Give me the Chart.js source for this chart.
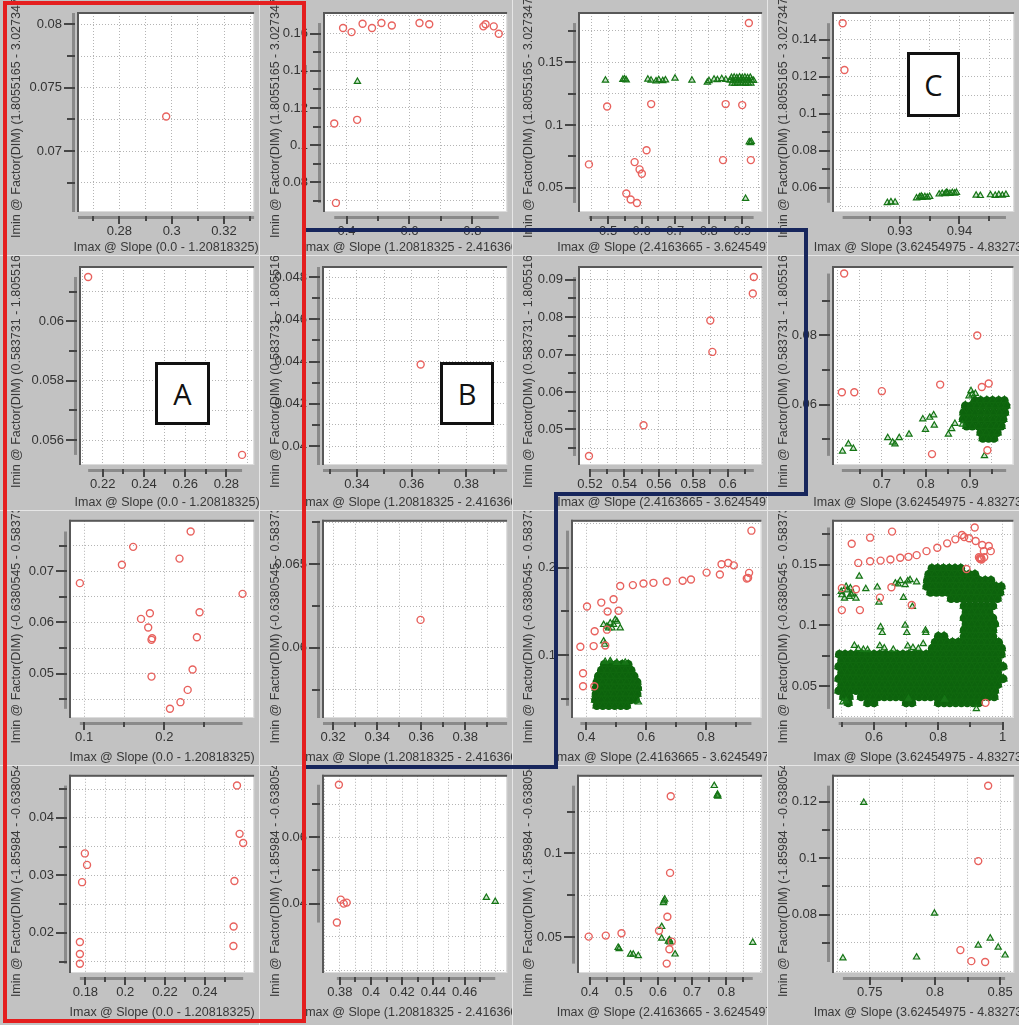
<!DOCTYPE html>
<html><head><meta charset="utf-8">
<script src="https://cdn.jsdelivr.net/npm/chart.js@4.4.0/dist/chart.umd.min.js"></script>
<style>
html,body{margin:0;padding:0;background:#c2c2c2;width:1019px;height:1025px;overflow:hidden;}
#wrap{position:relative;width:1019px;height:1025px;}
.cell{position:absolute;background:#c2c2c2;}
.cell canvas{position:absolute;left:0;top:0;}
.box{position:absolute;box-sizing:border-box;border:3px solid #111;background:#fff;font-family:"Open Sans",sans-serif;font-size:29px;color:#111;display:flex;align-items:center;justify-content:center;line-height:1;}
#overlay{position:absolute;left:0;top:0;pointer-events:none;}
</style></head><body><div id="wrap"></div>
<script>
// ---------- titles ----------
const xTitles = ["Imax @ Slope (0.0 - 1.20818325)","Imax @ Slope (1.20818325 - 2.4163665)","Imax @ Slope (2.4163665 - 3.62454975)","Imax @ Slope (3.62454975 - 4.832733)"];
const yTitles = ["Imin @ Factor(DIM) (1.8055165 - 3.0273475)","Imin @ Factor(DIM) (0.583731 - 1.8055165)","Imin @ Factor(DIM) (-0.6380545 - 0.583731)","Imin @ Factor(DIM) (-1.85984 - -0.6380545)"];

// ---------- axes: [min, max, minorStep, majorStep] ----------
const x11=[0.2642,0.3315,0.01,0.02],   y11=[0.0652,0.0809,0.0025,0.005];
const x12=[0.3284,0.9105,0.1,0.2],     y12=[0.0639,0.1712,0.01,0.02];
const x13=[0.4131,0.9593,0.05,0.1],    y13=[0.0308,0.1892,0.025,0.05];
const x14=[0.91878,0.94917,0.005,0.01],y14=[0.047,0.1543,0.01,0.02];
const x21=[0.20895,0.29342,0.01,0.02], y21=[0.05516,0.061826,0.001,0.002];
const x22=[0.3276,0.3949,0.01,0.02],   y22=[0.0391,0.04848,0.001,0.002];
const x23=[0.5136,0.62,0.01,0.02],     y23=[0.04049,0.09338,0.005,0.01];
const x24=[0.5888,0.9995,0.05,0.1],    y24=[0.04255,0.0998,0.01,0.02];
const x31=[0.0824,0.3119,0.05,0.1],    y31=[0.0413,0.0799,0.005,0.01];
const x32=[0.3154,0.399,0.01,0.02],    y32=[0.0558,0.0676,0.0025,0.005];
const x33=[0.352,0.9856,0.1,0.2],      y33=[0.0279,0.2536,0.05,0.1];
const x34=[0.4724,1.0337,0.1,0.2],     y34=[0.0236,0.1861,0.025,0.05];
const x41=[0.17223,0.2648,0.01,0.02],  y41=[0.013,0.0473,0.005,0.01];
const x42=[0.3692,0.4873,0.01,0.02],   y42=[0.0191,0.0785,0.01,0.02];
const x43=[0.3657,0.9049,0.05,0.1],    y43=[0.0287,0.1463,0.025,0.05];
const x44=[0.7218,0.8607,0.025,0.05],  y44=[0.0593,0.1291,0.01,0.02];

// ---------- data: [x, y] ----------
const red11=[[0.2979,0.07274]];
const green11=[];
const red12=[[0.361,0.1116],[0.389,0.1631],[0.416,0.1609],[0.451,0.1654],[0.481,0.1631],[0.511,0.1658],[0.544,0.1645],[0.632,0.1658],[0.663,0.1651],[0.835,0.1640],[0.842,0.1651],[0.868,0.1640],[0.884,0.1600],[0.4337,0.1136],[0.3663,0.0688]];
const green12=[[0.4347,0.1342]];
const red13=[[0.9198,0.1812],[0.497,0.1148],[0.6284,0.1167],[0.8506,0.1167],[0.900,0.1159],[0.4427,0.0687],[0.6146,0.0799],[0.579,0.0705],[0.5938,0.0647],[0.6007,0.0612],[0.8427,0.0721],[0.9257,0.0721],[0.5543,0.0455],[0.5672,0.0407],[0.5859,0.0380]];
const green13=[[0.492,0.1356],[0.544,0.1362],[0.549,0.1366],[0.554,0.1358],[0.6185,0.1364],[0.628,0.1356],[0.643,0.1350],[0.651,0.1360],[0.663,0.1352],[0.671,0.1358],[0.6995,0.1372],[0.750,0.1356],[0.796,0.1340],[0.801,0.1352],[0.816,0.1364],[0.826,0.1360],[0.839,0.1368],[0.851,0.1362],[0.921,0.0865],[0.925,0.0858],[0.927,0.0868],[0.910,0.0415],
 [0.868,0.1378],[0.876,0.1380],[0.884,0.1376],[0.892,0.1381],[0.900,0.1377],[0.908,0.1380],[0.916,0.1376],[0.924,0.1379],[0.864,0.1355],[0.872,0.1352],[0.880,0.1356],[0.888,0.1353],[0.896,0.1357],[0.904,0.1354],[0.912,0.1356],[0.920,0.1353],[0.928,0.1357],[0.934,0.1354],[0.870,0.1333],[0.878,0.1331],[0.886,0.1335],[0.894,0.1332],[0.902,0.1334],[0.910,0.1331],[0.918,0.1335],[0.926,0.1332]];
const red14=[[0.9204,0.1488],[0.9207,0.1236]];
const green14=[[0.9279,0.0520],[0.9285,0.0524],[0.9292,0.0522],[0.9328,0.0545],[0.9333,0.0550],[0.9338,0.0548],[0.9342,0.0552],[0.9346,0.0549],[0.9350,0.0553],[0.9336,0.0554],[0.9366,0.0566],[0.9371,0.0570],[0.9376,0.0568],[0.9380,0.0572],[0.9384,0.0569],[0.9388,0.0574],[0.9392,0.0571],[0.9378,0.0575],[0.9395,0.0575],[0.9428,0.0560],[0.9435,0.0558],[0.9452,0.0562],[0.9460,0.0559],[0.9466,0.0563],[0.9472,0.0560],[0.9478,0.0564]];
const red21=[[0.2129,0.06149],[0.28758,0.0555]];
const green21=[];
const red22=[[0.3633,0.04386]];
const green22=[];
const red23=[[0.5194,0.0429],[0.5511,0.0511],[0.5899,0.0791],[0.5911,0.0707],[0.6152,0.0907],[0.6146,0.0863]];
const green23=[];
const red24=[[0.6142,0.0979],[0.609,0.0636],[0.6373,0.0636],[0.700,0.0639],[0.8328,0.0658],[0.9172,0.0800],[0.9276,0.0651],[0.9433,0.0661],[0.8142,0.0457],[0.9403,0.0468]];
const green24=[[0.6104,0.0465],[0.6239,0.0486],[0.6351,0.0473],[0.7134,0.0504],[0.7246,0.0491],[0.7299,0.0486],[0.7396,0.0504],[0.7619,0.0514],[0.7933,0.0558],[0.7993,0.0528],[0.809,0.0563],[0.8179,0.057],[0.8194,0.054],[0.8515,0.0514],[0.859,0.053],[0.8664,0.0545],[0.8836,0.0543],[0.9336,0.0452],[0.9030,0.0640],[0.9130,0.0632],[0.8985,0.0625],[0.9060,0.0630]];
// dense clusters: [y, [x...]]
const blob24=[[0.0612,[0.912,0.925,0.939,0.952,0.966,0.979]],[0.0597,[0.890,0.903,0.916,0.930,0.944,0.958,0.972,0.983]],[0.0577,[0.886,0.899,0.912,0.926,0.940,0.954,0.968,0.980]],[0.0558,[0.885,0.898,0.911,0.925,0.939,0.953,0.966,0.976]],[0.0538,[0.893,0.906,0.920,0.934,0.948,0.961,0.972]],[0.0519,[0.925,0.938,0.951,0.963]],[0.0502,[0.930,0.943,0.955]]];
const red31=[[0.2328,0.0778],[0.1611,0.0748],[0.1471,0.0713],[0.2189,0.0725],[0.0947,0.0677],[0.2975,0.0656],[0.2439,0.0620],[0.182,0.0618],[0.1709,0.0607],[0.1799,0.0590],[0.2406,0.0571],[0.1848,0.0569],[0.184,0.0566],[0.2352,0.0508],[0.184,0.0494],[0.2291,0.0468],[0.2201,0.0444],[0.207,0.0431]];
const green31=[];
const red32=[[0.3597,0.06167]];
const green32=[];
const red33=[[0.9522,0.2423],[0.8522,0.2038],[0.8744,0.2053],[0.8933,0.2026],[0.8022,0.1943],[0.8467,0.1921],[0.9411,0.1883],[0.9367,0.1875],[0.9444,0.1940],[0.75,0.1864],[0.7222,0.1849],[0.6689,0.1842],[0.6244,0.1826],[0.5911,0.1819],[0.5556,0.1800],[0.5133,0.1789],[0.4911,0.1638],[0.45,0.1600],[0.4022,0.1555],[0.4711,0.1498],[0.5078,0.1506],[0.4278,0.1272],[0.4689,0.1290],[0.38,0.1094],[0.4244,0.1102],[0.4633,0.1109],[0.3889,0.0792],[0.3889,0.0642],[0.4267,0.0642]];
const green33=[[0.4578,0.1347],[0.4689,0.1328],[0.48,0.1366],[0.4911,0.1347],[0.5022,0.1385],[0.5133,0.1309],[0.4856,0.1309],[0.4967,0.1404],[0.4578,0.1158],[0.4611,0.1121],[0.4744,0.1309],[0.5744,0.046],[0.48,0.0932],[0.5022,0.0913],[0.463,0.0925],[0.53,0.0915]];
const blob33=[[0.0894,[0.46,0.48,0.50,0.52,0.54]],[0.0826,[0.45,0.47,0.49,0.51,0.53,0.55]],[0.0758,[0.44,0.46,0.48,0.50,0.52,0.54,0.56]],[0.0691,[0.435,0.455,0.475,0.495,0.515,0.535,0.555,0.57]],[0.0623,[0.432,0.452,0.472,0.492,0.512,0.532,0.552,0.572]],[0.0555,[0.432,0.452,0.472,0.492,0.512,0.532,0.552,0.57]],[0.0487,[0.43,0.45,0.47,0.49,0.51,0.53,0.55,0.565]],[0.0419,[0.435,0.455,0.475,0.495,0.515,0.535]]];
const red34=[[0.5306,0.1672],[0.5878,0.1722],[0.6561,0.1772],[0.551,0.1514],[0.5878,0.1528],[0.6204,0.1533],[0.651,0.1542],[0.6816,0.1556],[0.7071,0.1564],[0.7327,0.1578],[0.7633,0.1611],[0.7969,0.1639],[0.8276,0.1675],[0.8531,0.1708],[0.8735,0.1744],[0.8806,0.1728],[0.8959,0.1717],[0.9133,0.1806],[0.9163,0.1694],[0.9367,0.1661],[0.9571,0.1653],[0.9633,0.1611],[0.9418,0.1611],[0.9265,0.1561],[0.9347,0.1542],[0.9429,0.1561],[0.9290,0.1550],[0.9310,0.1545],[0.9330,0.1555],[0.8878,0.1464],[0.5,0.1306],[0.5439,0.1297],[0.6184,0.1228],[0.6541,0.1314],[0.7173,0.1167],[0.5,0.1125],[0.5561,0.1125],[0.9469,0.0361]];
const green34=[[0.498,0.1278],[0.5133,0.1319],[0.5265,0.1306],[0.5337,0.1264],[0.5235,0.1236],[0.5082,0.1222],[0.5439,0.1222],[0.5541,0.1403],[0.5745,0.13],[0.6102,0.1314],[0.6153,0.1189],[0.6663,0.1347],[0.6816,0.1367],[0.6969,0.1333],[0.7122,0.1375],[0.7327,0.1356],[0.6918,0.1228],[0.7194,0.1153],[0.6204,0.0986],[0.6255,0.0939],[0.6969,0.1],[0.702,0.0939],[0.7602,0.0958],[0.7612,0.0939],[0.7531,0.0847],[0.5031,0.0367],[0.5133,0.0375],[0.7071,0.0394],[0.8194,0.0389],[0.9184,0.0311],[0.5,0.1250],[0.517,0.1290],[0.529,0.1255],[0.675,0.1340],[0.705,0.1365],
 [0.539,0.0833],[0.551,0.0806],[0.567,0.0800],[0.618,0.0830],[0.632,0.0812],[0.705,0.0828],[0.721,0.0815],[0.738,0.0808],[0.660,0.0800],[0.58,0.0798]];
const blob34=[
 [0.147,[0.78,0.798,0.816,0.834,0.852,0.87]],
 [0.142,[0.77,0.788,0.806,0.824,0.842,0.86,0.878,0.896,0.914]],
 [0.137,[0.766,0.784,0.802,0.82,0.838,0.856,0.874,0.892,0.91,0.928,0.946,0.964]],
 [0.132,[0.764,0.782,0.80,0.818,0.836,0.854,0.872,0.89,0.908,0.926,0.944,0.962,0.98,0.996]],
 [0.127,[0.776,0.794,0.812,0.83,0.848,0.866,0.884,0.902,0.92,0.938,0.956,0.974,0.992]],
 [0.122,[0.84,0.858,0.876,0.894,0.912,0.93,0.948,0.966,0.984]],
 [0.116,[0.88,0.898,0.916,0.934,0.952,0.97]],
 [0.111,[0.886,0.904,0.922,0.94,0.958]],
 [0.106,[0.88,0.898,0.916,0.934,0.952,0.97]],
 [0.101,[0.886,0.904,0.922,0.94,0.958,0.976]],
 [0.096,[0.88,0.898,0.916,0.934,0.952,0.97]],
 [0.091,[0.80,0.818,0.88,0.898,0.916,0.934,0.952,0.97]],
 [0.086,[0.79,0.808,0.826,0.844,0.862,0.88,0.898,0.916,0.934,0.952,0.97,0.988]],
 [0.081,[0.781,0.799,0.817,0.835,0.853,0.871,0.889,0.907,0.925,0.943,0.961,0.979,0.997]],
 [0.076,[0.492,0.51,0.528,0.546,0.564,0.582,0.60,0.618,0.636,0.654,0.672,0.69,0.708,0.726,0.744,0.762,0.78,0.798,0.816,0.834,0.852,0.87,0.888,0.906,0.924,0.942,0.96,0.978,0.996]],
 [0.071,[0.499,0.517,0.535,0.553,0.571,0.589,0.607,0.625,0.643,0.661,0.679,0.697,0.715,0.733,0.751,0.769,0.787,0.805,0.823,0.841,0.859,0.877,0.895,0.913,0.931,0.949,0.967,0.985]],
 [0.066,[0.49,0.508,0.526,0.544,0.562,0.58,0.598,0.616,0.634,0.652,0.67,0.688,0.706,0.724,0.742,0.76,0.778,0.796,0.814,0.832,0.85,0.868,0.886,0.904,0.922,0.94,0.958,0.976,0.994,1.002]],
 [0.061,[0.499,0.517,0.535,0.553,0.571,0.589,0.607,0.625,0.643,0.661,0.679,0.697,0.715,0.733,0.751,0.769,0.787,0.805,0.823,0.841,0.859,0.877,0.895,0.913,0.931,0.949,0.967,0.985]],
 [0.056,[0.49,0.508,0.526,0.544,0.562,0.58,0.598,0.616,0.634,0.652,0.67,0.688,0.706,0.724,0.742,0.76,0.778,0.796,0.814,0.832,0.85,0.868,0.886,0.904,0.922,0.94,0.958,0.976,0.994,1.002]],
 [0.051,[0.499,0.517,0.535,0.553,0.571,0.589,0.607,0.625,0.643,0.661,0.679,0.697,0.715,0.733,0.751,0.769,0.787,0.805,0.823,0.841,0.859,0.877,0.895,0.913,0.931,0.949,0.967,0.985]],
 [0.046,[0.49,0.508,0.526,0.544,0.562,0.58,0.598,0.616,0.634,0.652,0.67,0.688,0.706,0.724,0.742,0.76,0.778,0.796,0.814,0.832,0.85,0.868,0.886,0.904,0.922,0.94,0.958,0.976]],
 [0.041,[0.505,0.523,0.56,0.578,0.596,0.614,0.632,0.65,0.668,0.686,0.704,0.722,0.74,0.758,0.776,0.794,0.812,0.83,0.848,0.866,0.884,0.902,0.92,0.938,0.956,0.974]],
 [0.036,[0.52,0.58,0.60,0.70,0.718,0.80,0.818,0.836,0.854,0.872,0.89,0.908,0.926]]
];
const red41=[[0.2562,0.0456],[0.2575,0.0372],[0.2593,0.0356],[0.2549,0.0290],[0.2545,0.0211],[0.2544,0.0177],[0.1797,0.0338],[0.1808,0.0318],[0.1783,0.0288],[0.1772,0.0184],[0.1772,0.0163],[0.1772,0.0146]];
const green41=[];
const red42=[[0.3794,0.0758],[0.3806,0.0412],[0.3825,0.0400],[0.3844,0.0403],[0.3781,0.0343]];
const green42=[[0.4740,0.0418],[0.4797,0.0406]];
const red43=[[0.6373,0.1341],[0.6353,0.0884],[0.6275,0.0622],[0.6029,0.0539],[0.3971,0.0504],[0.4471,0.0510],[0.4931,0.0524],[0.6402,0.0474],[0.6333,0.0429],[0.6255,0.0343]];
const green43=[[0.7647,0.1404],[0.7745,0.1352],[0.7755,0.1340],[0.7735,0.1345],[0.6176,0.0716],[0.6157,0.0706],[0.6196,0.0726],[0.6108,0.0563],[0.6108,0.0494],[0.6333,0.0484],[0.6304,0.0476],[0.6353,0.0472],[0.4833,0.0439],[0.4863,0.0431],[0.5196,0.0398],[0.5275,0.0398],[0.5422,0.0390],[0.65,0.0399],[0.8775,0.0469]];
const red44=[[0.8408,0.1256],[0.8332,0.0989],[0.8195,0.0674],[0.8279,0.0635],[0.8385,0.0632]];
const green44=[[0.7454,0.1196],[0.7996,0.0804],[0.7859,0.0649],[0.8332,0.0691],[0.8424,0.0716],[0.8485,0.0684],[0.8538,0.0656],[0.7294,0.0646]];

// ---------- layout ----------
const colLeft=[0,259,512,767], colW=[259,253,255,252];
const rowTop=[0,255,510,765], rowH=[255,255,255,260];
const padTop=[13,12,10,9], plotBottom=[212,210,208,208], padRight=[2,4,4,4];
const yAxisW=[[78,65,67,66],[80,64,67,66],[70,64,60,66],[70,64,66,66]];

const cells=[
 [0,0,red11,green11,[],x11,y11],[0,1,red12,green12,[],x12,y12],[0,2,red13,green13,[],x13,y13],[0,3,red14,green14,[],x14,y14],
 [1,0,red21,green21,[],x21,y21],[1,1,red22,green22,[],x22,y22],[1,2,red23,green23,[],x23,y23],[1,3,red24,green24,blob24,x24,y24],
 [2,0,red31,green31,[],x31,y31],[2,1,red32,green32,[],x32,y32],[2,2,red33,green33,blob33,x33,y33],[2,3,red34,green34,blob34,x34,y34],
 [3,0,red41,green41,[],x41,y41],[3,1,red42,green42,[],x42,y42],[3,2,red43,green43,[],x43,y43],[3,3,red44,green44,[],x44,y44]
];

const isMajor=(v,m)=>{const q=v/m;return Math.abs(q-Math.round(q))<1e-6;};
const fmt=v=>String(+v.toFixed(6));

const framePlugin={
  id:'frame',
  beforeDraw(chart){
    const {ctx,chartArea:a}=chart;
    ctx.save();ctx.fillStyle='#ffffff';ctx.fillRect(a.left,a.top,a.right-a.left,a.bottom-a.top);ctx.restore();
  },
  beforeDatasetsDraw(chart){
    const {ctx,chartArea:a}=chart;
    ctx.save();
    ctx.fillStyle='#dcdcdc';
    ctx.fillRect(a.right-1,a.top,1,a.bottom-a.top);
    ctx.fillRect(a.left,a.bottom-1,a.right-a.left,1);
    ctx.fillStyle='#585858';
    ctx.fillRect(a.left-1,a.top-1,a.right-a.left+1,2);
    ctx.fillRect(a.left-1,a.top-1,2,a.bottom-a.top+1);
    ctx.restore();
  },
  afterDraw(chart,args,o){
    const {ctx,chartArea:a,scales:{x,y}}=chart;
    ctx.save();
    const px0=x.getPixelForValue(o.xb[0]),px1=x.getPixelForValue(o.xb[1]);
    const by=a.bottom+4;
    ctx.fillStyle='#8a8a8a';ctx.fillRect(px0,by,px1-px0,3);
    ctx.fillStyle='#454545';
    x.ticks.forEach(t=>{if(t.value<o.xb[0]-1e-9||t.value>o.xb[1]+1e-9)return;const p=Math.round(x.getPixelForValue(t.value));ctx.fillRect(p-1,by,2,isMajor(t.value,o.xm)?8:5);});
    const py0=y.getPixelForValue(o.yb[0]),py1=y.getPixelForValue(o.yb[1]);
    const bx=a.left-6;
    ctx.fillStyle='#8a8a8a';ctx.fillRect(bx,py1,3,py0-py1);
    ctx.fillStyle='#454545';
    y.ticks.forEach(t=>{if(t.value<o.yb[0]-1e-9||t.value>o.yb[1]+1e-9)return;const p=Math.round(y.getPixelForValue(t.value));const L=isMajor(t.value,o.ym)?8:5;ctx.fillRect(bx-L,p-1,L+3,2);});
    ctx.font='12.5px "Liberation Sans"';ctx.fillStyle='#383838';ctx.textAlign='center';ctx.textBaseline='middle';
    ctx.fillText(o.xTitle,(a.left+a.right)/2,247.5);
    ctx.translate(17,(a.top+a.bottom)/2);ctx.rotate(-Math.PI/2);
    ctx.fillText(o.yTitle,0,0);
    ctx.restore();
  }
};

const wrap=document.getElementById('wrap');
cells.forEach(([r,c,red,green,blob,xa,ya])=>{
  const div=document.createElement('div');div.className='cell';
  Object.assign(div.style,{left:colLeft[c]+'px',top:rowTop[r]+'px',width:colW[c]+'px',height:rowH[r]+'px'});
  const cv=document.createElement('canvas');cv.width=colW[c];cv.height=rowH[r];
  cv.style.width=colW[c]+'px';cv.style.height=rowH[r]+'px';
  div.appendChild(cv);wrap.appendChild(div);
  const toPt=([px,py])=>({x:px,y:py});
  const redPts=red.map(toPt), greenPts=green.map(toPt);
  const blobPts=blob.flatMap(([py,xs])=>xs.map(px=>({x:px,y:py})));
  const all=redPts.concat(greenPts,blobPts);
  let xb=[xa[0],xa[1]],yb=[ya[0],ya[1]];
  if(all.length>1){
    xb=[Math.min(...all.map(p=>p.x)),Math.max(...all.map(p=>p.x))];
    yb=[Math.min(...all.map(p=>p.y)),Math.max(...all.map(p=>p.y))];
  }
  const tickFont={family:'Liberation Sans',size:13};
  new Chart(cv,{
    type:'scatter',
    data:{datasets:[
      {data:redPts,pointStyle:'circle',pointRadius:3.5,pointHoverRadius:3.5,pointBorderColor:'#e8625e',pointBorderWidth:1.4,pointBackgroundColor:'rgba(0,0,0,0)'},
      {data:greenPts,pointStyle:'triangle',pointRadius:3.6,pointHoverRadius:3.6,pointBorderColor:'#157515',pointBorderWidth:1.2,pointBackgroundColor:'rgba(60,150,60,0.25)'},
      {data:blobPts,pointStyle:'triangle',pointRadius:4.4,pointHoverRadius:4.4,pointBorderColor:'#10680f',pointBorderWidth:1.2,pointBackgroundColor:'#0d630d'},
      {data:blobPts,pointStyle:'circle',pointRadius:4.3,pointHoverRadius:4.3,pointBorderWidth:0,pointBorderColor:'rgba(0,0,0,0)',pointBackgroundColor:'#0d630d'}
    ]},
    options:{
      responsive:false,animation:false,devicePixelRatio:1,events:[],
      layout:{padding:{top:padTop[r],right:padRight[c],left:0,bottom:0}},
      plugins:{legend:{display:false},tooltip:{enabled:false},
        frame:{xb,yb,xm:xa[3],ym:ya[3],xTitle:xTitles[c],yTitle:yTitles[r]}},
      scales:{
        x:{type:'linear',position:'bottom',min:xa[0],max:xa[1],
          afterFit:s=>{s.height=rowH[r]-plotBottom[r];},
          ticks:{stepSize:xa[2],includeBounds:false,autoSkip:false,maxRotation:0,minRotation:0,padding:2,color:'#333',font:tickFont,
            callback:v=>(isMajor(v,xa[3])&&v>=xb[0]-1e-9&&v<=xb[1]+1e-9)?fmt(v):''},
          grid:{color:'#b4b4b4',lineWidth:1,tickLength:10,tickColor:'rgba(0,0,0,0)',drawTicks:true},
          border:{display:false,dash:[1,2]}},
        y:{type:'linear',position:'left',min:ya[0],max:ya[1],
          afterFit:s=>{s.width=yAxisW[r][c];},
          ticks:{stepSize:ya[2],includeBounds:false,autoSkip:false,padding:3,color:'#333',font:tickFont,
            callback:v=>(isMajor(v,ya[3])&&v>=yb[0]-1e-9&&v<=yb[1]+1e-9)?fmt(v):''},
          grid:{color:'#b4b4b4',lineWidth:1,tickLength:13,tickColor:'rgba(0,0,0,0)',drawTicks:true},
          border:{display:false,dash:[1,2]}}
      }
    },
    plugins:[framePlugin]
  });
});

// separators, highlight outlines and boxed labels
const svgNS='http://www.w3.org/2000/svg';
const svg=document.createElementNS(svgNS,'svg');svg.setAttribute('id','overlay');svg.setAttribute('width','1019');svg.setAttribute('height','1025');
function el(tag,attrs){const e=document.createElementNS(svgNS,tag);for(const k in attrs)e.setAttribute(k,attrs[k]);svg.appendChild(e);return e;}
[259,512,767].forEach(v=>el('line',{x1:v+0.5,y1:0,x2:v+0.5,y2:1025,stroke:'#e6e6e6','stroke-width':1}));
[255,510,765].forEach(v=>el('line',{x1:0,y1:v+0.5,x2:1019,y2:v+0.5,stroke:'#e6e6e6','stroke-width':1}));
el('polyline',{points:'305,230 806,230 806,494 556,494 556,767 305,767',fill:'none',stroke:'#17265c','stroke-width':4});
el('rect',{x:5,y:3,width:299,height:1018,fill:'none',stroke:'#e41e1e','stroke-width':4});
wrap.appendChild(svg);
[['A',155,362,55,63],['B',440,362,54,63],['C',907,52,53,65]].forEach(([t,l,tp,w,h])=>{
  const b=document.createElement('div');b.className='box';b.textContent=t;
  Object.assign(b.style,{left:l+'px',top:tp+'px',width:w+'px',height:h+'px'});
  wrap.appendChild(b);
});
</script></body></html>
